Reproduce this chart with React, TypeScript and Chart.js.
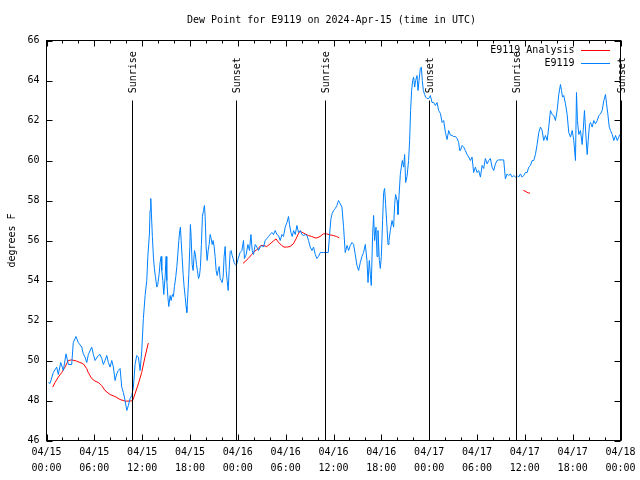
import React, { useEffect, useRef } from "react";
import { Chart, registerables } from "chart.js";

Chart.register(...registerables);

// ---------- data ----------
const TITLE = "Dew Point for E9119 on 2024-Apr-15 (time in UTC)";
const Y_LABEL = "degrees F";
const ANALYSIS_LABEL = "E9119 Analysis";
const STATION_LABEL = "E9119";

const Y_MIN = 46;
const Y_MAX = 66;
const Y_STEP = 2;
// hours since 04/15 00:00 UTC
const X_MIN = 0;
const X_MAX = 72;
const X_STEP = 6;
const X_MINOR_STEP = 2;
const xTickLabels: string[][] = [
  ["04/15", "00:00"], ["04/15", "06:00"], ["04/15", "12:00"], ["04/15", "18:00"],
  ["04/16", "00:00"], ["04/16", "06:00"], ["04/16", "12:00"], ["04/16", "18:00"],
  ["04/17", "00:00"], ["04/17", "06:00"], ["04/17", "12:00"], ["04/17", "18:00"],
  ["04/18", "00:00"],
];

const sunEventHours = [10.77, 23.82, 34.88, 47.94, 58.91, 72.0];
const sunEventLabels = ["Sunrise", "Sunset", "Sunrise", "Sunset", "Sunrise", "Sunset"];

// analysis series: [hour, °F]; null value = gap
const analysisReadings: [number, number | null][] = [
  [0.78, 48.67], [1.07, 48.9], [1.48, 49.17], [1.91, 49.4], [2.32, 49.67], [2.73, 50.0],
  [3.16, 50.03], [3.79, 49.97], [4.2, 49.9], [4.62, 49.83], [5.04, 49.6], [5.24, 49.4],
  [5.67, 49.1], [6.08, 48.97], [6.5, 48.9], [6.92, 48.75], [7.34, 48.5], [7.97, 48.3],
  [8.59, 48.2], [9.22, 48.05], [9.85, 47.97], [10.47, 47.97], [10.81, 48.0], [11.1, 48.33],
  [11.52, 48.83], [11.94, 49.4], [12.35, 50.17], [12.77, 50.87],
  [18.0, null],
  [24.69, 54.87], [24.77, 54.9], [25.31, 55.1], [25.74, 55.3], [26.15, 55.47], [26.57, 55.6],
  [26.87, 55.75], [27.2, 55.75], [27.62, 55.7], [28.04, 55.83], [28.45, 55.97], [28.79, 56.08],
  [29.08, 55.92], [29.5, 55.75], [29.79, 55.67], [30.13, 55.67], [30.54, 55.7], [30.96, 55.83],
  [31.3, 56.08], [31.59, 56.33], [31.8, 56.47], [32.01, 56.42], [32.43, 56.33], [32.84, 56.25],
  [33.27, 56.2], [33.68, 56.13], [33.9, 56.13], [34.31, 56.2], [34.72, 56.33], [35.15, 56.33],
  [35.56, 56.28], [35.98, 56.25], [36.4, 56.2], [36.73, 56.13],
  [48.0, null],
  [59.81, 58.5], [60.02, 58.47], [60.24, 58.42], [60.44, 58.38], [60.65, 58.37],
];

// station observations: [hour, °F]
const stationApr15: [number, number][] = [
  [0.23, 48.9], [0.44, 48.85], [0.85, 49.4], [1.28, 49.67], [1.48, 49.3], [1.78, 49.9],
  [2.11, 49.5], [2.45, 50.33], [2.74, 49.8], [3.16, 49.8], [3.36, 50.9], [3.7, 51.2],
  [3.99, 50.9], [4.42, 50.67], [4.62, 50.33], [4.83, 50.17], [5.05, 49.9], [5.25, 50.3],
  [5.67, 50.67], [5.88, 50.3], [6.09, 50.0], [6.5, 50.25], [6.72, 50.3], [6.93, 50.1],
  [7.13, 49.8], [7.34, 50.0], [7.56, 50.25], [7.76, 49.9], [7.97, 49.67], [8.19, 50.0],
  [8.39, 49.67], [8.6, 49.0], [8.81, 49.33], [9.01, 49.5], [9.23, 49.6], [9.44, 48.67],
  [9.64, 48.4], [9.86, 48.0], [10.07, 47.5], [10.27, 47.75], [10.48, 48.1], [10.7, 48.25],
  [10.9, 48.67], [11.11, 49.8], [11.32, 50.25], [11.53, 50.17], [11.74, 49.5], [11.95, 50.5],
  [12.15, 52.1], [12.37, 53.25], [12.58, 54.0], [12.71, 55.2], [12.91, 56.33], [12.99, 57.5],
  [13.08, 58.1], [13.28, 56.2], [13.41, 55.17], [13.53, 54.6], [13.66, 54.2], [13.84, 53.67],
  [13.96, 53.8], [14.12, 54.3], [14.25, 54.9], [14.38, 55.2], [14.46, 54.5], [14.59, 54.0],
  [14.71, 53.3], [14.88, 54.2], [15.0, 55.2], [15.09, 54.0], [15.22, 53.2], [15.34, 52.7],
  [15.51, 53.25], [15.63, 53.0], [15.79, 53.3], [15.92, 53.2], [16.05, 53.7], [16.22, 54.2],
  [16.35, 54.7], [16.47, 55.3], [16.6, 56.0], [16.72, 56.5], [16.8, 56.67], [16.89, 56.0],
  [17.01, 55.2], [17.14, 54.3], [17.26, 53.7], [17.39, 53.2], [17.51, 52.7], [17.6, 52.4],
  [17.73, 53.3], [17.85, 54.3], [17.98, 55.7], [18.05, 56.8], [18.14, 56.2], [18.27, 54.8],
  [18.39, 54.5], [18.56, 55.5], [18.68, 55.3], [18.81, 54.8], [18.93, 54.5], [19.06, 54.1],
  [19.18, 54.2], [19.31, 54.7], [19.43, 55.8], [19.56, 57.2], [19.69, 57.5], [19.81, 57.75],
  [19.9, 57.2], [20.02, 55.7], [20.15, 55.0], [20.28, 55.5], [20.4, 55.8], [20.53, 56.3],
  [20.65, 56.1], [20.78, 55.8], [20.9, 56.0], [21.03, 55.7], [21.15, 55.2], [21.28, 54.5],
  [21.41, 54.25], [21.53, 54.5], [21.66, 54.7], [21.78, 54.1], [21.91, 54.0], [22.03, 53.9],
  [22.16, 54.2], [22.28, 55.2], [22.41, 55.7], [22.54, 54.5], [22.66, 54.0], [22.79, 53.5],
  [22.91, 54.5], [23.04, 55.45], [23.16, 55.5], [23.29, 55.25], [23.41, 55.1], [23.54, 54.9],
  [23.67, 54.8], [23.79, 54.75], [23.92, 54.9],
];
const stationApr16: [number, number][] = [
  [24.04, 55.1], [24.17, 55.25], [24.29, 55.4], [24.51, 55.5], [24.71, 56.0], [24.83, 55.1],
  [25.05, 55.3], [25.26, 55.8], [25.46, 55.5], [25.64, 56.3], [25.8, 55.5], [25.96, 55.3],
  [26.18, 55.8], [26.39, 55.67], [26.59, 55.5], [26.81, 55.67], [27.02, 55.75], [27.22, 55.67],
  [27.43, 56.0], [27.65, 56.1], [27.85, 56.2], [28.06, 56.3], [28.27, 56.4], [28.47, 56.3],
  [28.69, 56.5], [28.9, 56.3], [29.1, 56.25], [29.32, 56.0], [29.53, 56.3], [29.73, 56.2],
  [29.94, 56.67], [30.16, 56.9], [30.36, 57.2], [30.48, 56.8], [30.66, 56.4], [30.82, 56.2],
  [30.99, 56.5], [31.2, 56.3], [31.41, 56.75], [31.61, 56.4], [31.83, 56.5], [32.04, 56.3],
  [32.24, 56.25], [32.45, 56.3], [32.67, 56.25], [32.87, 56.0], [33.08, 55.67], [33.3, 55.5],
  [33.5, 55.67], [33.71, 55.3], [33.92, 55.1], [34.12, 55.2], [34.34, 55.4], [34.55, 55.4],
  [34.75, 55.4], [34.97, 55.4], [35.18, 55.4], [35.34, 55.4], [35.51, 56.3], [35.68, 57.1],
  [35.84, 57.35], [36.01, 57.5], [36.22, 57.6], [36.43, 57.75], [36.63, 58.0], [36.76, 57.9],
  [37.06, 57.67], [37.26, 56.7], [37.47, 55.4], [37.7, 55.75], [37.9, 55.5], [38.1, 55.75],
  [38.32, 55.9], [38.52, 55.8], [38.73, 55.3], [38.94, 54.75], [39.15, 54.5], [39.36, 54.9],
  [39.57, 55.2], [39.77, 55.4], [39.99, 55.8], [40.2, 55.0], [40.33, 53.9], [40.49, 55.0],
  [40.62, 54.3], [40.74, 53.75], [40.9, 56.2], [41.03, 57.25], [41.16, 56.0], [41.33, 56.67],
  [41.46, 55.2], [41.58, 56.5], [41.75, 55.0], [41.87, 54.6], [42.0, 55.2], [42.16, 57.0],
  [42.29, 58.4], [42.41, 58.6], [42.54, 57.8], [42.71, 56.67], [42.84, 55.8], [42.96, 56.0],
  [43.13, 56.5], [43.34, 57.0], [43.54, 56.67], [43.67, 57.8], [43.79, 58.3], [43.97, 58.0],
  [44.09, 57.3], [44.22, 58.25], [44.38, 59.3], [44.51, 59.67], [44.63, 60.0], [44.8, 59.67],
  [44.92, 60.3], [45.05, 58.9], [45.22, 59.2], [45.42, 60.0], [45.55, 61.0], [45.67, 62.5],
  [45.8, 63.5], [45.93, 64.0], [46.05, 64.17], [46.18, 63.67], [46.3, 64.0], [46.48, 64.25],
  [46.6, 63.5], [46.73, 64.0], [46.89, 64.6], [47.02, 64.67], [47.14, 64.0], [47.27, 63.5],
  [47.43, 63.3], [47.56, 63.17], [47.73, 63.1], [47.94, 63.1],
];
const stationApr17: [number, number][] = [
  [48.15, 63.25], [48.36, 62.9], [48.56, 62.9], [48.78, 62.75], [48.99, 62.9], [49.19, 62.5],
  [49.41, 62.35], [49.62, 61.9], [49.82, 62.0], [50.04, 61.4], [50.25, 61.05], [50.45, 61.5],
  [50.66, 61.27], [50.88, 61.25], [51.07, 61.2], [51.29, 61.2], [51.5, 61.1], [51.7, 60.9],
  [51.83, 60.5], [51.91, 60.5], [52.13, 60.75], [52.33, 60.67], [52.54, 60.5], [52.76, 60.3],
  [52.96, 60.17], [53.17, 60.0], [53.38, 60.17], [53.58, 59.4], [53.8, 59.67], [54.01, 59.4],
  [54.21, 59.5], [54.43, 59.17], [54.64, 59.75], [54.84, 59.6], [55.05, 60.1], [55.27, 59.83],
  [55.47, 60.0], [55.68, 60.1], [55.89, 59.67], [56.1, 59.5], [56.31, 59.83], [56.52, 60.0],
  [56.72, 60.03], [57.35, 60.03], [57.56, 59.08], [57.78, 59.33], [57.98, 59.25], [58.19, 59.33],
  [58.41, 59.17], [58.61, 59.25], [58.82, 59.17], [59.03, 59.25], [59.23, 59.17], [59.45, 59.33],
  [59.66, 59.17], [59.86, 59.25], [60.07, 59.4], [60.29, 59.4], [60.49, 59.67], [60.7, 59.75],
  [60.92, 60.0], [61.12, 60.0], [61.33, 60.3], [61.54, 60.8], [61.75, 61.4], [61.96, 61.67],
  [62.17, 61.5], [62.37, 61.0], [62.59, 61.25], [62.8, 61.0], [63.0, 61.67], [63.21, 62.5],
  [63.43, 62.3], [63.63, 62.25], [63.84, 62.0], [64.05, 62.5], [64.26, 63.3], [64.47, 63.8],
  [64.6, 63.5], [64.72, 63.17], [64.88, 63.25], [65.1, 62.83], [65.31, 62.3], [65.51, 61.4],
  [65.73, 61.17], [65.94, 61.5], [66.14, 61.0], [66.35, 60.0], [66.48, 63.4], [66.6, 62.0],
  [66.77, 61.3], [66.98, 61.5], [67.19, 60.8], [67.32, 61.5], [67.48, 62.5], [67.65, 61.3],
  [67.82, 60.3], [67.95, 61.0], [68.11, 61.8], [68.24, 61.9], [68.45, 61.67], [68.65, 62.0],
  [68.86, 61.83], [69.08, 62.0], [69.28, 62.25], [69.49, 62.33], [69.7, 62.5], [69.91, 63.0],
  [70.12, 63.3], [70.25, 62.83], [70.41, 62.33], [70.59, 61.67], [70.75, 61.5], [70.96, 61.3],
  [71.16, 61.0], [71.38, 61.25], [71.59, 61.0], [71.79, 61.17], [71.91, 61.3],
];

// ---------- styling ----------
const MONO = "'DejaVu Sans Mono', 'Liberation Mono', monospace";
const ANALYSIS_COLOR = "#ff0000";
const STATION_COLOR = "#0080ff";

const decorPlugin = {
  id: "gnuplotDecor",
  afterDatasetsDraw(chart: any) {
    const { ctx, chartArea: a, scales } = chart;
    const xs = scales.x;
    const ys = scales.y;
    const h = a.bottom - a.top;
    ctx.save();
    ctx.strokeStyle = "#000";
    ctx.fillStyle = "#000";
    ctx.lineWidth = 1;

    // sunrise / sunset lines
    const lineTop = a.bottom - 0.85 * h;
    const labelY = a.bottom - 0.868 * h;
    sunEventHours.forEach((hr, i) => {
      const px = Math.round(xs.getPixelForValue(hr)) + 0.5;
      ctx.beginPath();
      ctx.moveTo(px, a.bottom);
      ctx.lineTo(px, lineTop);
      ctx.stroke();
      ctx.save();
      ctx.translate(px + 1, labelY);
      ctx.rotate(-Math.PI / 2);
      ctx.font = `10px ${MONO}`;
      ctx.textAlign = "left";
      ctx.textBaseline = "middle";
      ctx.fillText(sunEventLabels[i], 0, 0);
      ctx.restore();
    });

    // frame
    ctx.strokeRect(a.left, a.top, a.right - a.left, a.bottom - a.top);

    // x ticks (major + minor), bottom and top, inward
    ctx.beginPath();
    for (let v = X_MIN; v <= X_MAX + 1e-9; v += X_MINOR_STEP) {
      const major = Math.abs(v / X_STEP - Math.round(v / X_STEP)) < 1e-9;
      const len = major ? 6 : 3;
      const px = Math.round(xs.getPixelForValue(v)) + 0.5;
      ctx.moveTo(px, a.bottom);
      ctx.lineTo(px, a.bottom - len);
      ctx.moveTo(px, a.top);
      ctx.lineTo(px, a.top + len);
    }
    // y ticks, left and right, inward
    for (let v = Y_MIN; v <= Y_MAX + 1e-9; v += Y_STEP) {
      const py = Math.round(ys.getPixelForValue(v)) + 0.5;
      ctx.moveTo(a.left, py);
      ctx.lineTo(a.left + 6, py);
      ctx.moveTo(a.right, py);
      ctx.lineTo(a.right - 6, py);
    }
    ctx.stroke();

    // legend (top right, inside)
    ctx.font = `10px ${MONO}`;
    ctx.textAlign = "right";
    ctx.textBaseline = "middle";
    const ds = chart.data.datasets;
    const rows = [ds[0], ds[1]];
    rows.forEach((d: any, i: number) => {
      const ry = a.top + 9.5 + i * 12.5;
      ctx.fillStyle = "#000";
      ctx.fillText(d.label, a.right - 46, ry + 0.5);
      ctx.strokeStyle = d.borderColor;
      ctx.beginPath();
      ctx.moveTo(a.right - 39.5, Math.round(ry) + 0.5);
      ctx.lineTo(a.right - 10.5, Math.round(ry) + 0.5);
      ctx.stroke();
    });

    // title
    ctx.fillStyle = "#000";
    ctx.font = `10px ${MONO}`;
    ctx.textAlign = "center";
    ctx.textBaseline = "middle";
    ctx.fillText(TITLE, (a.left + a.right) / 2 - 2, 20);

    ctx.restore();
  },
};

export default function App() {
  const canvasRef = useRef<HTMLCanvasElement | null>(null);

  useEffect(() => {
    const canvas = canvasRef.current;
    if (!canvas) return;
    const station = [...stationApr15, ...stationApr16, ...stationApr17].map(([x, y]) => ({ x, y }));
    const analysis = analysisReadings.map(([x, y]) => ({ x, y }));

    const chart = new Chart(canvas, {
      type: "line",
      data: {
        datasets: [
          {
            label: ANALYSIS_LABEL,
            data: analysis as any,
            borderColor: ANALYSIS_COLOR,
            backgroundColor: ANALYSIS_COLOR,
            borderWidth: 1,
            pointRadius: 0,
            tension: 0,
            spanGaps: false,
            order: 1,
          },
          {
            label: STATION_LABEL,
            data: station as any,
            borderColor: STATION_COLOR,
            backgroundColor: STATION_COLOR,
            borderWidth: 1,
            pointRadius: 0,
            tension: 0,
            order: 0,
          },
        ],
      },
      options: {
        responsive: false,
        animation: false,
        events: [],
        layout: { padding: { left: 0, right: 19.5, top: 40.5, bottom: 0 } },
        plugins: {
          legend: { display: false },
          tooltip: { enabled: false },
          title: { display: false },
        },
        scales: {
          x: {
            type: "linear",
            min: X_MIN,
            max: X_MAX,
            grid: { display: false, drawTicks: false },
            border: { display: false },
            ticks: {
              stepSize: X_STEP,
              autoSkip: false,
              maxRotation: 0,
              minRotation: 0,
              padding: 4,
              color: "#000",
              font: { family: MONO, size: 10, lineHeight: 1.6 },
              callback: (value: any) => xTickLabels[Math.round(Number(value) / X_STEP)] ?? "",
            },
            afterFit: (s: any) => {
              s.height = 39.5;
            },
          },
          y: {
            type: "linear",
            min: Y_MIN,
            max: Y_MAX,
            grid: { display: false, drawTicks: false },
            border: { display: false },
            ticks: {
              stepSize: Y_STEP,
              padding: 7,
              color: "#000",
              font: { family: MONO, size: 10 },
            },
            title: {
              display: true,
              text: Y_LABEL,
              color: "#000",
              font: { family: MONO, size: 10 },
              padding: { top: 6, bottom: 0 },
            },
            afterFit: (s: any) => {
              s.width = 46.5;
            },
          },
        },
      },
      plugins: [decorPlugin],
    });
    return () => chart.destroy();
  }, []);

  return (
    <div style={{ position: "absolute", left: 0, top: 0, width: 640, height: 480, background: "#fff" }}>
      <canvas ref={canvasRef} width={640} height={480} style={{ width: 640, height: 480 }} />
    </div>
  );
}
